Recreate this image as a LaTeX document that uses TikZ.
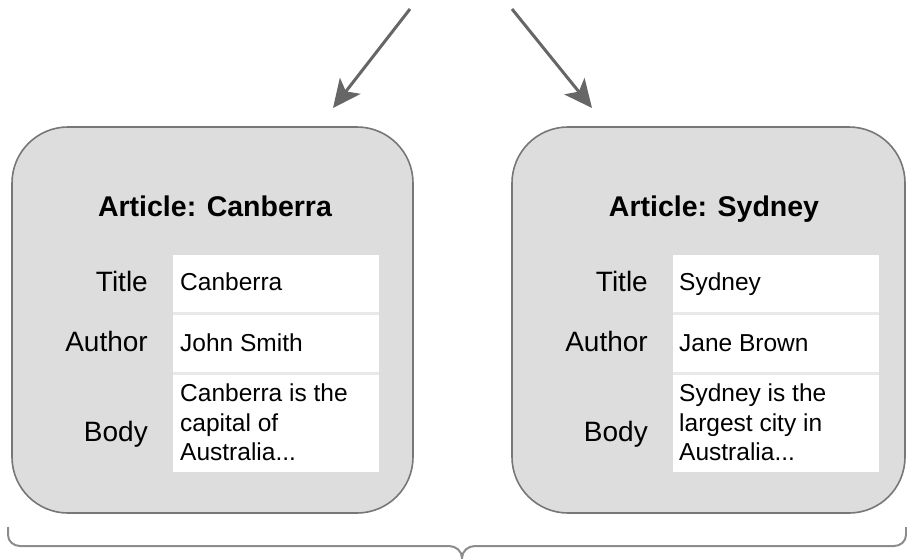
\documentclass[tikz,border=0pt]{standalone}
\usepackage{fontspec}
\setmainfont{Liberation Sans}
\usetikzlibrary{arrows.meta}
\definecolor{cardfill}{HTML}{DDDDDD}
\definecolor{cardline}{HTML}{777777}
\definecolor{arrowcol}{HTML}{666666}
\definecolor{bracecol}{HTML}{8C8C8C}
\definecolor{gapcol}{HTML}{E8E8E8}
\tikzset{
  card/.style={draw=cardline, line width=1.6pt, fill=cardfill, rounded corners=56pt, inner sep=0pt},
  cell/.style={fill=white, draw=none, inner sep=0pt, minimum width=206pt},
  cellgap/.style={fill=gapcol, draw=none, inner sep=0pt, minimum width=206pt},
  head/.style={font=\fontsize{28.5}{33}\selectfont\bfseries, inner sep=0pt, anchor=base},
  lab/.style={font=\fontsize{28}{33}\selectfont, inner sep=0pt, anchor=base east},
  val/.style={font=\fontsize{24.5}{29.5}\selectfont, inner sep=0pt, anchor=base west, align=left},
  valm/.style={font=\fontsize{24.5}{29.5}\selectfont, inner sep=0pt, anchor=north west, align=left},
  arr/.style={draw=arrowcol, line width=3pt, -{Stealth[length=28pt, width=26pt, inset=7pt]}},
  bracestyle/.style={draw=bracecol, line width=2pt}
}
\begin{document}
\begin{tikzpicture}[x=1pt, y=-1pt]
\useasboundingbox (0,0) rectangle (907,558);
% cards
\node[card, minimum width=401pt, minimum height=386pt] (cardL) at (212.5,320) {};
\node[card, minimum width=393pt, minimum height=386pt] (cardR) at (708.5,320) {};
% titles
\node[head] (titleL) at (215,216.7) {Article: Canberra};
\node[head] (titleR) at (714,216.7) {Article: Sydney};
% tables left
\node[cellgap, minimum height=217pt] (gapL) at (276,363.5) {};
\node[cell, minimum height=57pt] (c1L) at (276,283.5) {};
\node[cell, minimum height=57pt] (c2L) at (276,343.5) {};
\node[cell, minimum height=97pt] (c3L) at (276,423.5) {};
% tables right
\node[cellgap, minimum height=217pt] (gapR) at (776,363.5) {};
\node[cell, minimum height=57pt] (c1R) at (776,283.5) {};
\node[cell, minimum height=57pt] (c2R) at (776,343.5) {};
\node[cell, minimum height=97pt] (c3R) at (776,423.5) {};
% labels left
\node[lab] (lt1) at (148,291.7) {Title};
\node[lab] (lt2) at (148,351.7) {Author};
\node[lab] (lt3) at (148,441.7) {Body};
% labels right
\node[lab] (rt1) at (648,291.7) {Title};
\node[lab] (rt2) at (648,351.7) {Author};
\node[lab] (rt3) at (648,441.7) {Body};
% values left
\node[val] (lv1) at (180,290.7) {Canberra};
\node[val] (lv2) at (180,351.7) {John Smith};
\node[valm] (lv3) at (180,384) {Canberra is the\\capital of\\Australia...};
% values right
\node[val] (rv1) at (679,290.7) {Sydney};
\node[val] (rv2) at (679,351.7) {Jane Brown};
\node[valm] (rv3) at (679,384) {Sydney is the\\largest city in\\Australia...};
% arrows
\coordinate (aLs) at (410,9);
\coordinate (aLe) at (333,108);
\coordinate (aRs) at (512,9);
\coordinate (aRe) at (592,108);
\draw[arr] (aLs) -- (aLe);
\draw[arr] (aRs) -- (aRe);
% brace
\draw[bracestyle] (8,527) -- (8,535) to[out=-90,in=180] (20,546) -- (449,546)
  to[out=0,in=90] (462,558) to[out=90,in=180] (475,546) -- (894,546) to[out=0,in=-90] (906,535) -- (906,527);
\end{tikzpicture}
\end{document}
